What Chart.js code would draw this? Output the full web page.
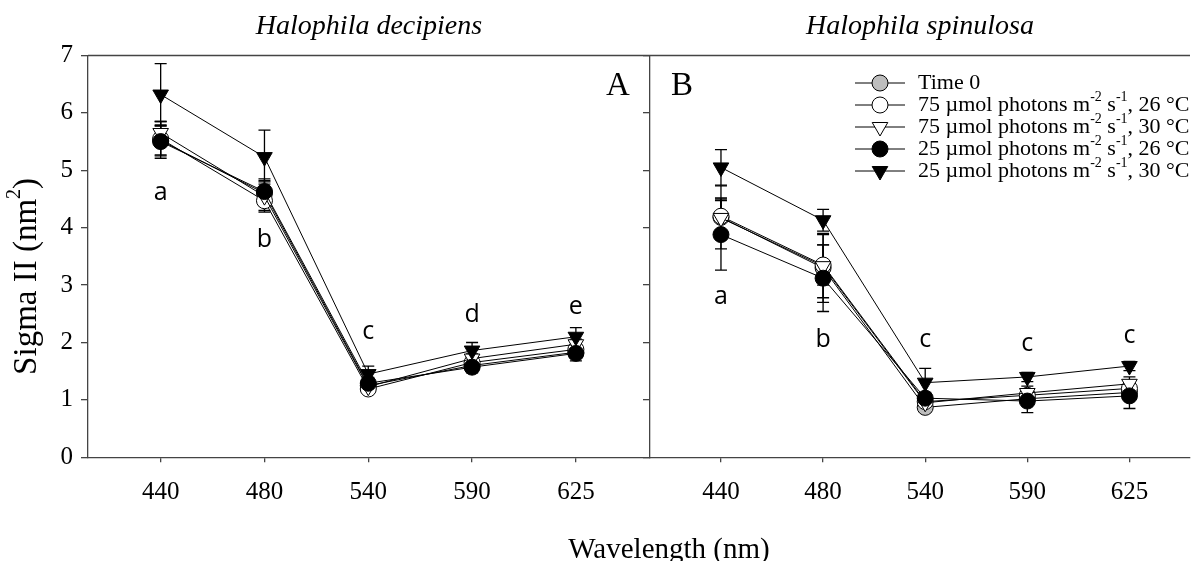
<!DOCTYPE html>
<html>
<head>
<meta charset="utf-8">
<script src="https://cdn.jsdelivr.net/npm/chart.js@4.4.0/dist/chart.umd.min.js"></script>
<style>
  body { margin: 0; background: #fff; width: 1200px; height: 561px; position: relative; overflow: hidden; }
  #chartA { position: absolute; left: 0; top: 0; }
  #chartB { position: absolute; left: 640px; top: 0; }
  #xTitle { position: absolute; left: 469px; width: 400px; top: 532px; text-align: center;
            font: 29px "Liberation Serif"; line-height: 32px; color: #000; }
</style>
</head>
<body>
<canvas id="chartA" width="660" height="561"></canvas>
<canvas id="chartB" width="560" height="561"></canvas>
<div id="xTitle">Wavelength (nm)</div>
<script>
const wavelengths = ['440', '480', '540', '590', '625'];
const seriesNames = [
  'Time 0',
  '75 µmol photons m^{-2} s^{-1}, 26 °C',
  '75 µmol photons m^{-2} s^{-1}, 30 °C',
  '25 µmol photons m^{-2} s^{-1}, 26 °C',
  '25 µmol photons m^{-2} s^{-1}, 30 °C'
];

// Halophila decipiens (A)
const decTime0 = [5.52, 4.60, 1.25, 1.60, 1.83];
const decTime0Err = [0.25, 0.22, 0.08, 0.07, 0.08];
const dec75at26 = [5.55, 4.47, 1.19, 1.65, 1.88];
const dec75at26Err = [0.30, 0.20, 0.07, 0.07, 0.08];
const dec75at30 = [5.65, 4.55, 1.23, 1.72, 1.97];
const dec75at30Err = [0.20, 0.25, 0.08, 0.08, 0.09];
const dec25at26 = [5.50, 4.63, 1.29, 1.57, 1.81];
const dec25at26Err = [0.29, 0.22, 0.10, 0.10, 0.13];
const dec25at30 = [6.32, 5.23, 1.45, 1.86, 2.10];
const dec25at30Err = [0.54, 0.47, 0.14, 0.14, 0.16];
const decLetters = ['a', 'b', 'c', 'd', 'e'];
const decLetterY = [4.61, 3.78, 2.19, 2.48, 2.62];

// Halophila spinulosa (B)
const spiTime0 = [4.18, 3.30, 0.87, 1.02, 1.13];
const spiTime0Err = [0.55, 0.60, 0.07, 0.10, 0.10];
const spi75at26 = [4.20, 3.35, 0.97, 1.08, 1.20];
const spi75at26Err = [0.32, 0.35, 0.08, 0.10, 0.12];
const spi75at30 = [4.17, 3.33, 0.95, 1.12, 1.28];
const spi75at30Err = [0.30, 0.55, 0.08, 0.12, 0.12];
const spi25at26 = [3.88, 3.12, 1.03, 0.98, 1.07];
const spi25at26Err = [0.62, 0.58, 0.10, 0.20, 0.22];
const spi25at30 = [5.05, 4.13, 1.30, 1.40, 1.59];
const spi25at30Err = [0.31, 0.19, 0.25, 0.08, 0.08];
const spiLetters = ['a', 'b', 'c', 'c', 'c'];
const spiLetterY = [2.79, 2.04, 2.04, 1.97, 2.11];

const yTicks = [0, 1, 2, 3, 4, 5, 6, 7];

const serif = 'Liberation Serif';
const axisColor = '#444';
const markers = [
  { style: 'circle', fill: '#bdbdbd', radius: 8, rotation: 0 },
  { style: 'circle', fill: '#ffffff', radius: 8, rotation: 0 },
  { style: 'triangle', fill: '#ffffff', radius: 9, rotation: 180 },
  { style: 'circle', fill: '#000000', radius: 8, rotation: 0 },
  { style: 'triangle', fill: '#000000', radius: 9, rotation: 180 }
];

// text with ^{...} superscripts
function drawRich(ctx, str, x, y, size, align) {
  const parts = [];
  const re = /\^\{([^}]*)\}/g;
  let last = 0, m;
  while ((m = re.exec(str))) {
    if (m.index > last) parts.push({ t: str.slice(last, m.index), sup: false });
    parts.push({ t: m[1], sup: true });
    last = re.lastIndex;
  }
  if (last < str.length) parts.push({ t: str.slice(last), sup: false });
  let w = 0;
  parts.forEach(p => {
    ctx.font = (p.sup ? Math.round(size * 0.62) : size) + 'px "' + serif + '"';
    p.w = ctx.measureText(p.t).width;
    w += p.w;
  });
  let cx = align === 'center' ? x - w / 2 : x;
  ctx.textAlign = 'left';
  ctx.textBaseline = 'middle';
  parts.forEach(p => {
    ctx.font = (p.sup ? Math.round(size * 0.62) : size) + 'px "' + serif + '"';
    ctx.fillText(p.t, cx, p.sup ? y - size * 0.36 : y);
    cx += p.w;
  });
}

const errorBars = {
  id: 'errorBars',
  beforeDatasetsDraw(chart) {
    const ctx = chart.ctx;
    const ys = chart.scales.y;
    ctx.save();
    ctx.strokeStyle = '#000';
    ctx.lineWidth = 1.3;
    chart.data.datasets.forEach((ds, di) => {
      const meta = chart.getDatasetMeta(di);
      ds.data.forEach((p, i) => {
        const x = meta.data[i].x;
        const top = ys.getPixelForValue(p.y + ds.errors[i]);
        const bot = ys.getPixelForValue(p.y - ds.errors[i]);
        ctx.beginPath();
        ctx.moveTo(x, top); ctx.lineTo(x, bot);
        ctx.moveTo(x - 6, top); ctx.lineTo(x + 6, top);
        ctx.moveTo(x - 6, bot); ctx.lineTo(x + 6, bot);
        ctx.stroke();
      });
    });
    ctx.restore();
  }
};

const decorations = {
  id: 'decorations',
  afterDraw(chart, args, opts) {
    const ctx = chart.ctx;
    const a = chart.chartArea;
    const xs = chart.scales.x, ys = chart.scales.y;
    ctx.save();
    // top frame line
    ctx.strokeStyle = axisColor;
    ctx.lineWidth = 1.3;
    ctx.beginPath();
    ctx.moveTo(a.left, a.top); ctx.lineTo(a.right, a.top);
    ctx.stroke();
    // significance letters
    ctx.fillStyle = '#000';
    ctx.font = '25px "Open Sans"';
    ctx.textAlign = 'center';
    ctx.textBaseline = 'middle';
    opts.letters.forEach((l, i) => {
      ctx.fillText(l, xs.getPixelForValue(i), ys.getPixelForValue(opts.letterY[i]));
    });
    // panel letter
    ctx.font = '33px "' + serif + '"';
    ctx.fillText(opts.panel, opts.panelLeft ? a.left + 32 : a.right - 32, a.top + 31);
    // y axis title
    if (opts.yTitle) {
      ctx.save();
      ctx.translate(27, (a.top + a.bottom) / 2 + 20);
      ctx.rotate(-Math.PI / 2);
      drawRich(ctx, opts.yTitle, 0, 0, 33, 'center');
      ctx.restore();
    }
    // legend
    if (opts.legend) {
      chart.data.datasets.forEach((ds, i) => {
        const y = a.top + 27.5 + i * 22;
        const x0 = a.left + 205;
        ctx.strokeStyle = '#000';
        ctx.lineWidth = 1;
        ctx.beginPath();
        ctx.moveTo(x0, y); ctx.lineTo(x0 + 50, y);
        ctx.stroke();
        ctx.fillStyle = ds.pointBackgroundColor;
        Chart.helpers.drawPoint(ctx, {
          pointStyle: ds.pointStyle, radius: ds.pointRadius,
          rotation: ds.pointRotation, borderWidth: 1
        }, x0 + 25, y);
        ctx.fillStyle = '#000';
        drawRich(ctx, seriesNames[i], x0 + 63, y, 22, 'left');
      });
    }
    ctx.restore();
  }
};

function buildDatasets(values, errors) {
  return values.map((vals, s) => ({
    label: seriesNames[s],
    data: vals.map((v, i) => ({ x: i, y: v })),
    errors: errors[s],
    borderColor: '#000',
    borderWidth: 1,
    tension: 0,
    fill: false,
    pointStyle: markers[s].style,
    pointRadius: markers[s].radius,
    pointRotation: markers[s].rotation,
    pointBackgroundColor: markers[s].fill,
    pointBorderColor: '#000',
    pointBorderWidth: 1,
    order: 5 - s
  }));
}

function makeChart(id, title, values, errors, letters, letterY, xmin, xmax, isLeft) {
  const tickFont = { family: serif, size: 25 };
  return new Chart(document.getElementById(id), {
    type: 'line',
    data: { datasets: buildDatasets(values, errors) },
    plugins: [errorBars, decorations],
    options: {
      responsive: false,
      animation: false,
      devicePixelRatio: 1,
      layout: { padding: { left: 0, right: isLeft ? 10 : 0, top: 0, bottom: 0 } },
      scales: {
        x: {
          type: 'linear', min: xmin, max: xmax,
          afterBuildTicks: s => { s.ticks = wavelengths.map((w, i) => ({ value: i })); },
          ticks: { callback: v => wavelengths[v], font: tickFont, color: '#000', padding: 15, maxRotation: 0, autoSkip: false },
          grid: { drawOnChartArea: false, tickLength: 5, color: axisColor, tickColor: axisColor, lineWidth: 1.3 },
          border: { display: true, color: axisColor, width: 1.3 },
          afterFit: s => { s.height = 103.7; }
        },
        y: {
          min: 0, max: 7,
          afterBuildTicks: s => { s.ticks = yTicks.map(v => ({ value: v })); },
          ticks: { display: isLeft, font: tickFont, color: '#000', padding: 8 },
          grid: { drawOnChartArea: false, tickLength: 7, color: axisColor, tickColor: axisColor, lineWidth: 1.3 },
          border: { display: true, color: axisColor, width: 1.3 },
          afterFit: s => { s.width = isLeft ? 88 : 10; }
        }
      },
      plugins: {
        legend: { display: false },
        tooltip: { enabled: false },
        title: {
          display: true, text: title, fullSize: false, color: '#000',
          font: { family: serif, size: 28, style: 'italic', weight: 'normal' },
          padding: { top: 10, bottom: 11.9 }
        },
        decorations: {
          letters: letters, letterY: letterY,
          panel: isLeft ? 'A' : 'B', panelLeft: !isLeft,
          yTitle: isLeft ? 'Sigma II (nm^{2})' : null,
          legend: !isLeft
        }
      }
    }
  });
}

makeChart('chartA', 'Halophila decipiens',
  [decTime0, dec75at26, dec75at30, dec25at26, dec25at30],
  [decTime0Err, dec75at26Err, dec75at30Err, dec25at26Err, dec25at30Err],
  decLetters, decLetterY, -0.700, 4.714, true);

makeChart('chartB', 'Halophila spinulosa',
  [spiTime0, spi75at26, spi75at30, spi25at26, spi25at30],
  [spiTime0Err, spi75at26Err, spi75at30Err, spi25at26Err, spi25at30Err],
  spiLetters, spiLetterY, -0.695, 4.593, false);
</script>
</body>
</html>
